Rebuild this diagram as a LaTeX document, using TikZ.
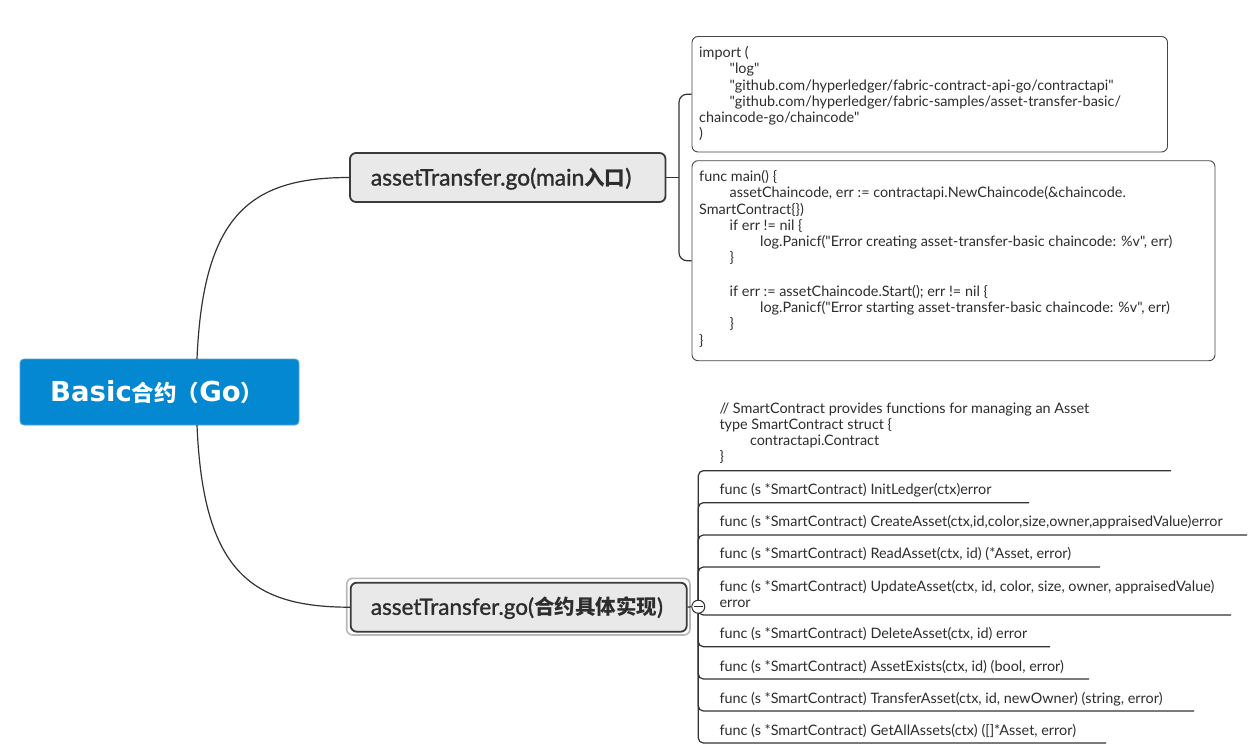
\documentclass[tikz,border=0pt]{standalone}
\usepackage{fontspec}
\setmainfont{Lato}
\newfontfamily\codefam{Lato}
\newfontfamily\cjk{Noto Sans CJK SC}
\newfontfamily\labfont[FakeBold=1.2]{Lato}
\newfontfamily\rootfam{DejaVu Sans}
\newcommand{\mycodefont}{\codefam\fontsize{14.4}{16.2}\selectfont}
\newcommand{\mytab}{\hspace*{30.5pt}}
\newcommand{\cjklab}[1]{{\cjk\bfseries\fontsize{20.5}{25}\selectfont #1}}
\definecolor{rootblue}{RGB}{3,136,209}
\definecolor{rootedge}{RGB}{80,165,222}
\definecolor{nodefill}{RGB}{233,233,233}
\definecolor{nodeedge}{RGB}{58,58,58}
\definecolor{linec}{RGB}{51,51,51}
\definecolor{codec}{RGB}{45,45,45}
\definecolor{boxedge}{RGB}{70,70,70}
\definecolor{selc}{RGB}{185,185,185}
\begin{document}
\begin{tikzpicture}[x=1pt,y=-1pt,
  conn/.style={draw=linec, line width=1.2pt},
  rootbox/.style={rectangle, rounded corners=4pt, fill=rootblue, draw=rootedge, line width=0.8pt, inner sep=0pt},
  subbox/.style={rectangle, rounded corners=6pt, fill=nodefill, draw=nodeedge, line width=1.8pt, inner sep=0pt},
  selbox/.style={rectangle, rounded corners=6pt, draw=selc, line width=1.6pt, inner sep=0pt},
  codebox/.style={rectangle, rounded corners=6pt, draw=boxedge, line width=0.9pt, fill=white, inner sep=0pt},
  code/.style={font=\mycodefont, text=codec, inner sep=0pt, align=left},
  lab/.style={inner sep=0pt, anchor=base west, text=codec},
]
\useasboundingbox[fill=white] (0,0) rectangle (1249,752);

% root
\node[rootbox, minimum width=279pt, minimum height=66pt] (root) at (159.5,392) {};
\node[lab, text=white, font=\rootfam\fontsize{27.5}{31}\selectfont\bfseries] (rootlab) at (50,401.8) {Basic{\cjk\bfseries\fontsize{22.5}{26}\selectfont 合约（}Go{\cjk\bfseries\fontsize{22.5}{26}\selectfont ）}};

% top sub node
\node[subbox, minimum width=315.5pt, minimum height=49pt] (top) at (507.75,177.5) {};
\node[lab, font=\labfont\fontsize{22.8}{26}\selectfont] (toplab) at (370.7,185.5) {assetTransfer.go(main\cjklab{入口})};

% bottom sub node
\node[selbox, minimum width=343.3pt, minimum height=56.7pt] (sel) at (518.35,606.65) {};
\node[subbox, minimum width=336pt, minimum height=49pt] (bot) at (518.7,607.2) {};
\node[lab, font=\labfont\fontsize{22.5}{26}\selectfont] (botlab) at (370.7,614.8) {assetTransfer.go(\cjklab{合约具体实现})};

% root connectors
\draw[conn] (197,359) .. controls (203,215) and (250,177.5) .. (top.west);
\draw[conn] (197,425) .. controls (203,570) and (250,607.2) .. (bot.west);

% code boxes
\node[codebox, minimum width=475.5pt, minimum height=115.5pt] (box1) at (929.75,94.25) {};
\node[codebox, minimum width=523pt, minimum height=200pt] (box2) at (953.5,260.7) {};
\node[code, anchor=north west] (imp) at (699,46.3) {\rule{0pt}{10.5pt}import (\\\mytab"log"\\\mytab"github.com/hyperledger/fabric-contract-api-go/contractapi"\\\mytab"github.com/hyperledger/fabric-samples/asset-transfer-basic/\\chaincode-go/chaincode"\\)};
\node[code, anchor=north west] (mainc) at (699,170.3) {\rule{0pt}{10.5pt}func main() \{\\\mytab assetChaincode, err := contractapi.NewChaincode(\&chaincode.\\SmartContract\{\})\\\mytab if err != nil \{\\\mytab\mytab log.Panicf("Error creating asset-transfer-basic chaincode: \%v", err)\\\mytab\}\\[1.5pt]\mbox{}\\\mytab if err := assetChaincode.Start(); err != nil \{\\\mytab\mytab log.Panicf("Error starting asset-transfer-basic chaincode: \%v", err)\\\mytab\}\\\}};

% top bracket
\coordinate (brk) at (679,177.5);
\draw[conn] (top.east) -- (brk);
\draw[conn, rounded corners=8pt] (box1.west) -| (brk) |- (box2.west);

% bottom list
\coordinate (hub) at (698.3,606.7);
\coordinate (u0) at (1171,470.7);
\coordinate (u1) at (1029,502.7);
\coordinate (u2) at (1247,535);
\coordinate (u3) at (1100,567);
\coordinate (u4) at (1231,615);
\coordinate (u5) at (1050,646.7);
\coordinate (u6) at (1089,679);
\coordinate (u7) at (1194,711);
\coordinate (u8) at (1106,743);
\foreach \u in {u0,u1,u2,u3,u4,u5,u6,u7,u8}{
  \draw[conn, rounded corners=5pt] (hub) |- (\u);
}

\node[code, anchor=north west] (t0) at (719.3,402.5) {\rule{0pt}{10.5pt}// SmartContract provides functions for managing an Asset\\type SmartContract struct \{\\\mytab contractapi.Contract\\\}};
\node[code, anchor=base west] (t1) at (719.3,494.7) {func (s *SmartContract) InitLedger(ctx)error};
\node[code, anchor=base west] (t2) at (719.3,526.4) {func (s *SmartContract) CreateAsset(ctx,id,color,size,owner,appraisedValue)error};
\node[code, anchor=base west] (t3) at (719.3,558.7) {func (s *SmartContract) ReadAsset(ctx, id) (*Asset, error)};
\node[code, anchor=north west] (t4) at (719.3,580.2) {\rule{0pt}{10.5pt}func (s *SmartContract) UpdateAsset(ctx, id, color, size, owner, appraisedValue)\\error};
\node[code, anchor=base west] (t5) at (719.3,638.7) {func (s *SmartContract) DeleteAsset(ctx, id) error};
\node[code, anchor=base west] (t6) at (719.3,671.2) {func (s *SmartContract) AssetExists(ctx, id) (bool, error)};
\node[code, anchor=base west] (t7) at (719.3,703.2) {func (s *SmartContract) TransferAsset(ctx, id, newOwner) (string, error)};
\node[code, anchor=base west] (t8) at (719.3,735.4) {func (s *SmartContract) GetAllAssets(ctx) ([]*Asset, error)};

% collapse circle
\node[circle, draw=linec, line width=1pt, fill=white, minimum size=13pt, inner sep=0pt] (circ) at (hub) {};
\draw[conn] (bot.east) -- (circ.west);
\draw[linec, line width=1pt] ([xshift=2.5pt]circ.west) -- ([xshift=-2.5pt]circ.east);
\end{tikzpicture}
\end{document}
